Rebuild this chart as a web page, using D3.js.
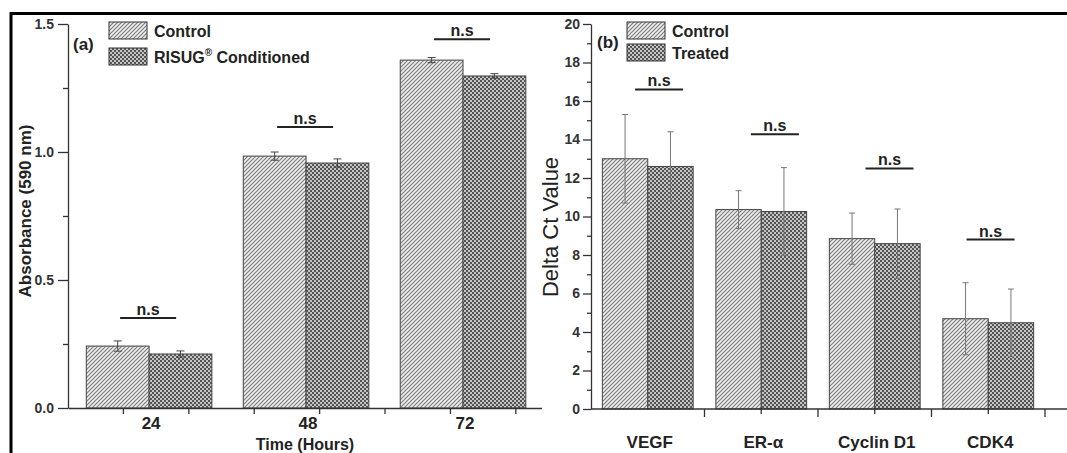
<html>
<title>Absorbance and Delta Ct bars</title>
<script src="https://d3js.org/d3.v7.min.js"></script>
<style>
body { margin: 0; background: #fff; }
svg { font-family: "Liberation Sans", Arial, sans-serif; }
.bold { font-weight: bold; }
</style>
<body>
<svg width="1067" height="453"></svg>
<script>

// panel (a)
var hours = [24, 48, 72];
var controlA = [0.242, 0.984, 1.359];
var controlAErr = [0.020, 0.016, 0.010];
var risugA = [0.211, 0.957, 1.297];
var risugAErr = [0.012, 0.016, 0.009];
var nsA = [0.352, 1.098, 1.44];
var yTicksA = [0, 0.5, 1.0, 1.5];
var yMinorA = [0.25, 0.75, 1.25];
var xTicksA = [20, 30, 40, 50, 60, 70, 80];

// panel (b)
var genes = ["VEGF", "ER-\u03b1", "Cyclin D1", "CDK4"];
var controlB = [13.0, 10.36, 8.85, 4.69];
var controlBErr = [2.3, 0.98, 1.33, 1.87];
var treatedB = [12.6, 10.26, 8.59, 4.48];
var treatedBErr = [1.8, 2.28, 1.8, 1.75];
var nsB = [16.6, 14.27, 12.5, 8.8];
var nsShiftB = [0.1, 0.12, 0.13, 0.02];
var yTicksB = [0, 2, 4, 6, 8, 10, 12, 14, 16, 18, 20];
var yMinorB = [1, 3, 5, 7, 9, 11, 13, 15, 17, 19];

var svg = d3.select("svg");
var defs = svg.append("defs");

var hatch = defs.append("pattern").attr("id", "hatch")
	.attr("patternUnits", "userSpaceOnUse").attr("width", 4).attr("height", 4);
hatch.append("rect").attr("width", 4).attr("height", 4).attr("fill", "#efefef");
hatch.append("path").attr("d", "M-1,1 l2,-2 M0,4 l4,-4 M3,5 l2,-2")
	.attr("stroke", "#7e7e7e").attr("stroke-width", 1.2);

var check = defs.append("pattern").attr("id", "check")
	.attr("patternUnits", "userSpaceOnUse").attr("width", 4).attr("height", 4);
check.append("rect").attr("width", 4).attr("height", 4).attr("fill", "#c4c4c4");
check.append("rect").attr("width", 2).attr("height", 2).attr("fill", "#555");
check.append("rect").attr("x", 2).attr("y", 2).attr("width", 2).attr("height", 2).attr("fill", "#555");

// frame
svg.append("line").attr("x1", 10).attr("x2", 1067).attr("y1", 13.5).attr("y2", 13.5)
	.attr("stroke", "#000").attr("stroke-width", 3);
svg.append("line").attr("x1", 11).attr("x2", 11).attr("y1", 12).attr("y2", 453)
	.attr("stroke", "#000").attr("stroke-width", 3);

function errBar(g, x, y, v, e, cap, color) {
	g.append("line").attr("x1", x).attr("x2", x).attr("y1", y(v - e)).attr("y2", y(v + e))
		.attr("stroke", color).attr("stroke-width", 1);
	[v - e, v + e].forEach(function (w) {
		g.append("line").attr("x1", x - cap).attr("x2", x + cap).attr("y1", y(w)).attr("y2", y(w))
			.attr("stroke", color).attr("stroke-width", 1);
	});
}

function nsMark(g, cx, y, half) {
	g.append("line").attr("x1", cx - half).attr("x2", cx + half).attr("y1", y).attr("y2", y)
		.attr("stroke", "#222").attr("stroke-width", 2);
	g.append("text").attr("class", "bold").attr("x", cx).attr("y", y - 3)
		.attr("text-anchor", "middle").attr("font-size", 16).attr("fill", "#222").text("n.s");
}

function styleAxis(g, size) {
	g.selectAll("path, line").attr("stroke", "#333").attr("stroke-width", 1.3);
	g.selectAll("text").attr("fill", "#333").attr("font-weight", "bold")
		.attr("font-family", "Liberation Sans, Arial, sans-serif").attr("font-size", size || 14);
}

function legend(g, x, y1, y2, labels) {
	[["hatch", y1], ["check", y2]].forEach(function (d, i) {
		g.append("rect").attr("x", x).attr("y", d[1]).attr("width", 38).attr("height", 17)
			.attr("fill", "url(#" + d[0] + ")").attr("stroke", "#333").attr("stroke-width", 1);
		var t = g.append("text").attr("class", "bold").attr("x", x + 45).attr("y", d[1] + 15)
			.attr("font-size", 16).attr("fill", "#222");
		labels[i](t);
	});
}

// ---------- panel (a)
var ga = svg.append("g");
var xa = d3.scaleLinear().domain([11.6, 84]).range([68, 541.5]);
var ya = d3.scaleLinear().domain([0, 1.5]).range([408, 24]);
var barW = 9.6;

hours.forEach(function (h, i) {
	ga.append("rect").attr("x", xa(h - barW)).attr("width", xa(h) - xa(h - barW))
		.attr("y", ya(controlA[i])).attr("height", ya(0) - ya(controlA[i]))
		.attr("fill", "url(#hatch)").attr("stroke", "#444").attr("stroke-width", 1);
	ga.append("rect").attr("x", xa(h)).attr("width", xa(h + barW) - xa(h))
		.attr("y", ya(risugA[i])).attr("height", ya(0) - ya(risugA[i]))
		.attr("fill", "url(#check)").attr("stroke", "#444").attr("stroke-width", 1);
	errBar(ga, xa(h - barW / 2), ya, controlA[i], controlAErr[i], 4, "#444");
	errBar(ga, xa(h + barW / 2), ya, risugA[i], risugAErr[i], 4, "#444");
	nsMark(ga, xa(h) - 1, ya(nsA[i]), 28);
	ga.append("text").attr("class", "bold").attr("x", xa(h) + 2).attr("y", 429)
		.attr("text-anchor", "middle").attr("font-size", 17).attr("fill", "#222").text(h);
});

var axA = ga.append("g").attr("transform", "translate(0," + ya(0) + ")")
	.call(d3.axisBottom(xa).tickValues(xTicksA).tickFormat("").tickSize(6).tickSizeOuter(0));
styleAxis(axA);
var ayA = ga.append("g").attr("transform", "translate(68,0)")
	.call(d3.axisLeft(ya).tickValues(yTicksA).tickFormat(d3.format(".1f")).tickSize(10).tickSizeOuter(0).tickPadding(4));
styleAxis(ayA, 14);
ga.append("g").attr("transform", "translate(68,0)")
	.call(d3.axisLeft(ya).tickValues(yMinorA).tickFormat("").tickSize(5))
	.call(function (g) { g.select(".domain").remove(); styleAxis(g); });

ga.append("text").attr("class", "bold").attr("x", 305).attr("y", 450)
	.attr("text-anchor", "middle").attr("font-size", 16).attr("fill", "#222").text("Time (Hours)");
ga.append("text").attr("class", "bold").attr("transform", "translate(31,211) rotate(-90)")
	.attr("text-anchor", "middle").attr("font-size", 17).attr("fill", "#222").text("Absorbance (590 nm)");
ga.append("text").attr("class", "bold").attr("x", 73).attr("y", 50)
	.attr("font-size", 17).attr("fill", "#222").text("(a)");
legend(ga, 109, 22, 48, [
	function (t) { t.text("Control"); },
	function (t) {
		t.append("tspan").text("RISUG");
		t.append("tspan").attr("font-size", 10).attr("dy", -7).text("\u00ae");
		t.append("tspan").attr("dy", 7).text(" Conditioned");
	}
]);

// ---------- panel (b)
var gb = svg.append("g");
var xb = d3.scaleBand().domain(genes).range([591, 1045]);
var yb = d3.scaleLinear().domain([0, 20]).range([409, 24]);
var bw = xb.step() * 0.4;

genes.forEach(function (g, i) {
	var c = xb(g) + xb.step() / 2;
	gb.append("rect").attr("x", c - bw).attr("width", bw)
		.attr("y", yb(controlB[i])).attr("height", yb(0) - yb(controlB[i]))
		.attr("fill", "url(#hatch)").attr("stroke", "#444").attr("stroke-width", 1);
	gb.append("rect").attr("x", c).attr("width", bw)
		.attr("y", yb(treatedB[i])).attr("height", yb(0) - yb(treatedB[i]))
		.attr("fill", "url(#check)").attr("stroke", "#444").attr("stroke-width", 1);
	errBar(gb, c - bw / 2, yb, controlB[i], controlBErr[i], 3, "#777");
	errBar(gb, c + bw / 2, yb, treatedB[i], treatedBErr[i], 3, "#777");
	nsMark(gb, c + nsShiftB[i] * xb.step(), yb(nsB[i]), 24);
	gb.append("text").attr("x", c + 2).attr("y", 448).attr("text-anchor", "middle")
		.attr("font-size", 17).attr("fill", "#222").attr("font-weight", 600).text(g);
});

gb.append("line").attr("x1", 591).attr("x2", 1067).attr("y1", yb(0)).attr("y2", yb(0))
	.attr("stroke", "#333").attr("stroke-width", 1.3);
var axB = gb.append("g").attr("transform", "translate(" + (xb.step() / 2) + "," + yb(0) + ")")
	.call(d3.axisBottom(xb).tickFormat("").tickSize(8).tickSizeOuter(0));
axB.select(".domain").remove();
styleAxis(axB);
var axB2 = gb.append("g").attr("transform", "translate(" + xb.step() + "," + yb(0) + ")")
	.call(d3.axisBottom(xb).tickFormat("").tickSize(5).tickSizeOuter(0));
axB2.select(".domain").remove();
styleAxis(axB2);

var ayB = gb.append("g").attr("transform", "translate(591,0)")
	.call(d3.axisLeft(yb).tickValues(yTicksB).tickSize(8).tickSizeOuter(0).tickPadding(3));
styleAxis(ayB, 14);
gb.append("g").attr("transform", "translate(591,0)")
	.call(d3.axisLeft(yb).tickValues(yMinorB).tickFormat("").tickSize(4))
	.call(function (g) { g.select(".domain").remove(); styleAxis(g); });

gb.append("text").attr("transform", "translate(550,227) rotate(-90)")
	.attr("text-anchor", "middle").attr("dominant-baseline", "central")
	.attr("font-size", 22).attr("fill", "#222").text("Delta Ct Value");
gb.append("text").attr("class", "bold").attr("x", 597).attr("y", 48)
	.attr("font-size", 17).attr("fill", "#222").text("(b)");
legend(gb, 627, 22, 44, [
	function (t) { t.text("Control"); },
	function (t) { t.text("Treated"); }
]);

</script>
</body>
</html>
